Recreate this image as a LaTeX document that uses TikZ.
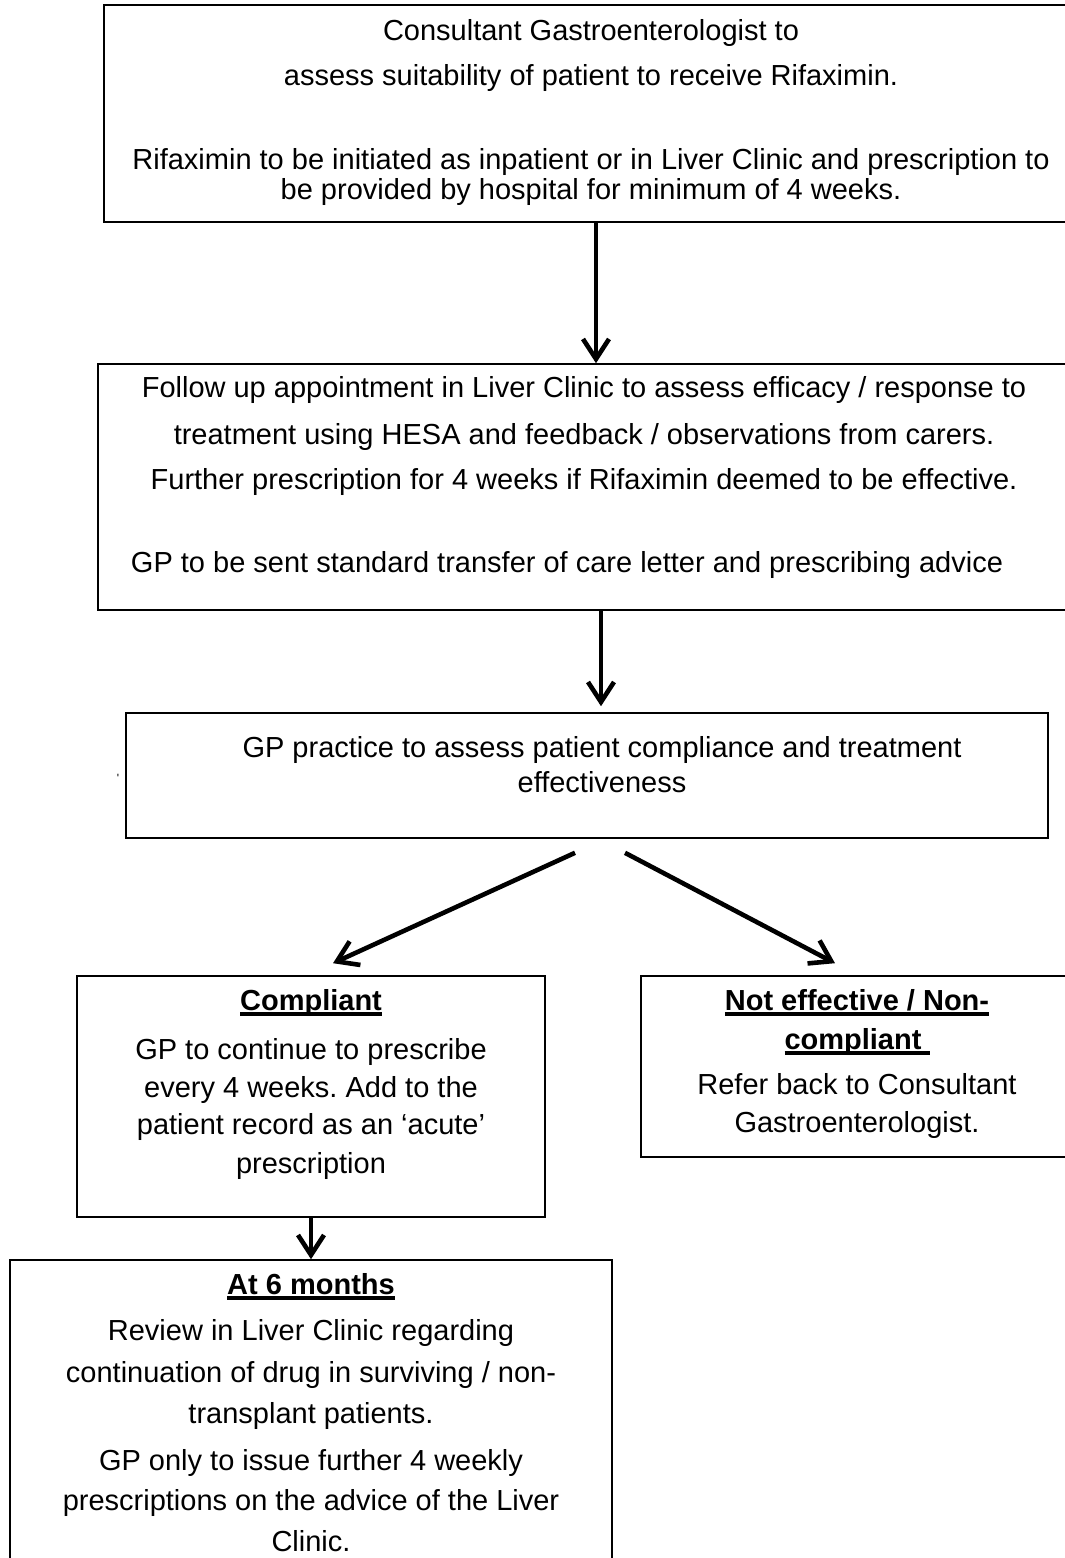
\documentclass[tikz,border=0pt]{standalone}
\usepackage{fontspec}
\setmainfont{Liberation Sans}
\usetikzlibrary{arrows.meta}
\frenchspacing
\newcommand{\thickul}[1]{\setbox0\hbox{#1}\rlap{\rule[-2.8pt]{\wd0}{1.9pt}}\box0}

\begin{document}
\begin{tikzpicture}[x=0.5pt,y=-0.5pt,
    box/.style={draw,line width=0.8pt,inner sep=0pt},
    txt/.style={align=center,font=\fontsize{14.5}{15}\selectfont},
    flow/.style={line width=2.3pt,-{Straight Barb[length=10pt,width=13pt]}}]
   \useasboundingbox (0,0) rectangle (1065,1558);
   \clip (0,0) rectangle (1065,1558);

   % boxes
   \node[box,minimum width=492pt,minimum height=108.5pt] (consult) at (596,113.5) {};
   \node[box,minimum width=503pt,minimum height=123pt] (followup) at (601,487) {};
   \node[box,minimum width=461pt,minimum height=62.5pt] (gp) at (587,775.5) {};
   \node[box,minimum width=234pt,minimum height=120.5pt] (comp) at (311,1096.5) {};
   \node[box,minimum width=216pt,minimum height=90.5pt] (noneff) at (857,1066.5) {};
   \node[box,minimum width=301pt,minimum height=170pt] (sixm) at (311,1430) {};

   % texts
   \node[txt] (consulttext) at (591,112.5) {Consultant Gastroenterologist to\\[7.5pt]
      assess suitability of patient to receive Rifaximin.\\[27pt]
      Rifaximin to be initiated as inpatient or in Liver Clinic and prescription to\\
      be provided by hospital for minimum of 4 weeks.};
   \node[txt] (followtext) at (584,477.5) {Follow up appointment in Liver Clinic to assess efficacy / response to\\[8.5pt]
      treatment using HESA and feedback / observations from carers.\\[7.5pt]
      Further prescription for 4 weeks if Rifaximin deemed to be effective.\\[26.5pt]
      GP to be sent standard transfer of care letter and prescribing advice\hspace*{17pt}};
   \node[txt] (gptext) at (602,764.5) {GP practice to assess patient compliance and treatment\\[2.5pt]
      effectiveness};
   \node[font=\fontsize{6}{6}\selectfont,inner sep=0pt] (tick) at (118,778) {\textquotesingle};
   \node[txt] (comptext) at (311,1084.5) {\textbf{\thickul{Compliant}}\\[9.5pt]
      GP to continue to prescribe\\[4pt]
      every 4 weeks. Add to the\\[3.5pt]
      patient record as an ‘acute’\\[4.5pt]
      prescription};
   \node[txt] (nonefftext) at (857,1064) {\textbf{\thickul{Not effective / Non-}}\\[4.5pt]
      \textbf{\thickul{compliant\ }}\\[7.5pt]
      Refer back to Consultant\\[4pt]
      Gastroenterologist.};
   \node[txt] (sixmtext) at (311,1412.5) {\textbf{\thickul{At 6 months}}\\[8pt]
      Review in Liver Clinic regarding\\[6pt]
      continuation of drug in surviving / non-\\[5.5pt]
      transplant patients.\\[8.5pt]
      GP only to issue further 4 weekly\\[5pt]
      prescriptions on the advice of the Liver\\[5.5pt]
      Clinic.};

   % arrows
   \draw[flow] (consult.south) -- (consult.south |- followup.north);
   \draw[flow] (followup.south) -- ([yshift=3pt]followup.south |- gp.north);
   \draw[flow] ([xshift=-6pt,yshift=-7pt]gp.south) -- ([xshift=11pt,yshift=6pt]comp.north);
   \draw[flow] ([xshift=19pt,yshift=-7pt]gp.south) -- ([xshift=-11pt,yshift=6pt]noneff.north);
   \draw[flow] (comp.south) -- (sixm.north);
\end{tikzpicture}
\end{document}
